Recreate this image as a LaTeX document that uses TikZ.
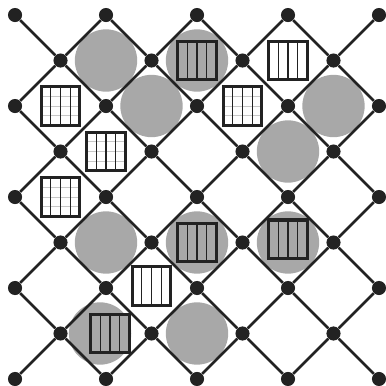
\documentclass[tikz,border=0pt]{standalone}
\usepackage{xcolor}
\usepackage{tikz}
\usetikzlibrary{positioning, calc}
\definecolor{inkgray}{RGB}{34,34,34}
\definecolor{discgray}{RGB}{168,168,168}
\definecolor{faintgray}{RGB}{200,200,200}

\tikzset{
  dot/.style={circle, fill=inkgray, inner sep=0pt, minimum size=0.31cm},
  bond/.style={draw=inkgray, line width=1.7pt},
  disc/.style={circle, fill=discgray, inner sep=0pt, minimum size=1.37cm},
  bars/.style={draw=inkgray, line width=0.8pt},
  cage/.style={draw=inkgray, line width=1.9pt, fill=white, inner sep=0pt, minimum size=0.85cm,
    path picture={
      \foreach \k in {1,2,3}
        \draw[bars] ([xshift=\k*0.2125cm]path picture bounding box.north west) -- ([xshift=\k*0.2125cm]path picture bounding box.south west);
    }},
  gridcage/.style={cage,
    path picture={
      \foreach \k in {1,2,3}
        \draw[draw=faintgray, line width=0.6pt] ([yshift=-\k*0.2125cm]path picture bounding box.north west) -- ([yshift=-\k*0.2125cm]path picture bounding box.north east);
      \foreach \k in {1,2,3}
        \draw[bars] ([xshift=\k*0.2125cm]path picture bounding box.north west) -- ([xshift=\k*0.2125cm]path picture bounding box.south west);
    }},
  graycage/.style={cage, fill=discgray}
}

\begin{document}
\begin{tikzpicture}[x=1cm, y=-1cm]
  \useasboundingbox (-0.33,-0.33) rectangle (8.154,8.154);

  % discs
  \node[disc] (c21) at (2,1) {};
  \node[disc] (c41) at (4,1) {};
  \node[disc] (c32) at (3,2) {};
  \node[disc] (c72) at (7,2) {};
  \node[disc] (c63) at (6,3) {};
  \node[disc] (c25) at (2,5) {};
  \node[disc] (c45) at (4,5) {};
  \node[disc] (c65) at (6,5) {};
  \node[disc] (c27) at (1.87,7) {};
  \node[disc] (c47) at (4,7) {};

  % lattice sites
  \foreach \i in {0,...,8}
    \foreach \j in {0,...,8} {
      \pgfmathtruncatemacro\odd{mod(\i+\j,2)}
      \ifnum\odd=0 \node[dot] (d\i\j) at (\i,\j) {}; \fi
    }

  % bonds
  \foreach \i in {0,...,7}
    \foreach \j in {0,...,8} {
      \pgfmathtruncatemacro\odd{mod(\i+\j,2)}
      \pgfmathtruncatemacro\ii{\i+1}
      \pgfmathtruncatemacro\jd{\j+1}
      \pgfmathtruncatemacro\ju{\j-1}
      \ifnum\odd=0
        \ifnum\j<8 \draw[bond] (d\i\j) -- (d\ii\jd); \fi
        \ifnum\j>0 \draw[bond] (d\i\j) -- (d\ii\ju); \fi
      \fi
    }

  % open cages
  \node[cage] (q61) at (6,1) {};
  \node[cage] (q36) at (3,5.95) {};

  % ruled cages
  \node[gridcage] (q12) at (1,2) {};
  \node[gridcage] (q52) at (5,2) {};
  \node[gridcage] (q23) at (2,3) {};
  \node[gridcage] (q14) at (1,4) {};

  % filled cages
  \node[graycage] (q41) at (4,1) {};
  \node[graycage] (q45) at (4,5) {};
  \node[graycage] (q65) at (6,4.93) {};
  \node[graycage] (q27) at (2.09,7) {};
\end{tikzpicture}
\end{document}
